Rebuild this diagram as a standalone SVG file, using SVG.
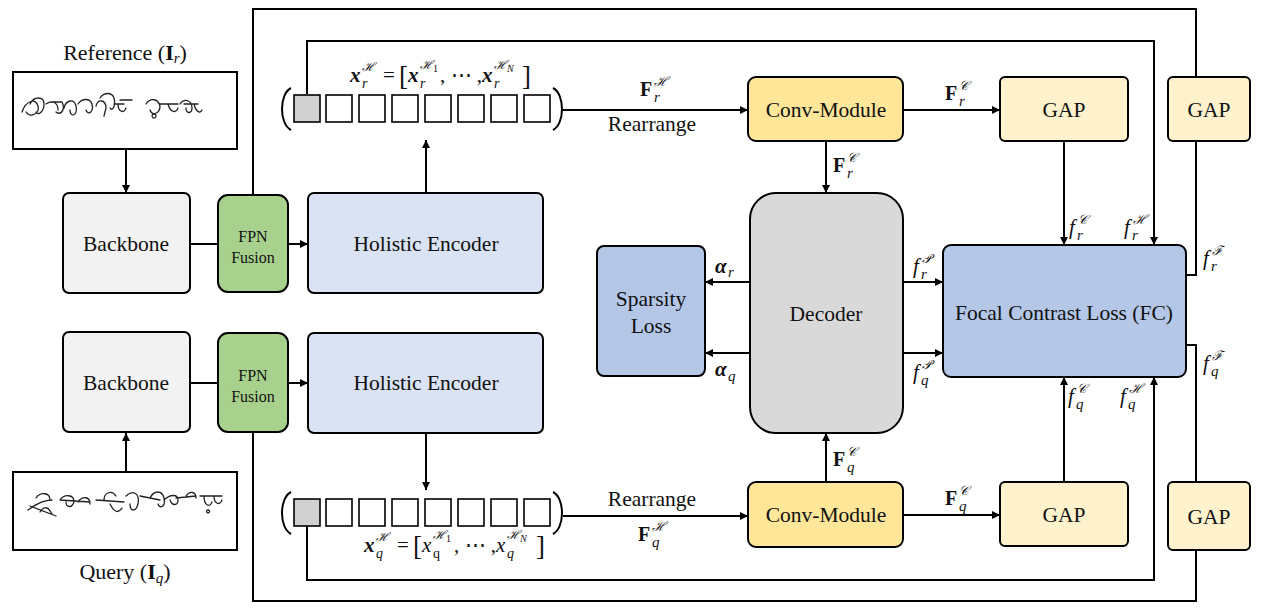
<svg xmlns="http://www.w3.org/2000/svg" width="1280" height="613" viewBox="0 0 1280 613" font-family="Liberation Serif">
<defs>
<style>
.box{stroke:#000;stroke-width:2}
.ln{fill:none;stroke:#000;stroke-width:2}
.arr{fill:none;stroke:#000;stroke-width:2;marker-end:url(#ah)}
.t{font-family:'Liberation Serif';fill:#111}
.lbl{font-size:21.5px;text-anchor:middle}
.sm{font-size:16px;text-anchor:middle}
.b{font-weight:bold}
.i{font-style:italic}
.cal{font-family:'DejaVu Serif';font-style:italic}
.cell{fill:#fff;stroke:#000;stroke-width:1.6}
.scr{fill:none;stroke:#222;stroke-width:1.3;stroke-linecap:round;stroke-linejoin:round}
</style>
<marker id="ah" viewBox="0 0 10 10" refX="10" refY="5" markerWidth="9" markerHeight="8" markerUnits="userSpaceOnUse" orient="auto">
<path d="M0,0 L10,5 L0,10 z" fill="#000"/>
</marker>
</defs>
<rect width="1280" height="613" fill="#fff"/>

<g id="connectors">
<path class="ln" d="M253,195 V9 H1196 V77"/>
<path class="ln" d="M1196,141 V275 H1186"/>
<path class="ln" d="M1186,345 H1196 V482"/>
<path class="ln" d="M1196,550 V601 H253 V432"/>
<path class="arr" d="M126,149 V193"/>
<path class="arr" d="M126,472 V433"/>
<path class="ln" d="M190,244 H218"/>
<path class="ln" d="M190,383 H218"/>
<path class="arr" d="M288,244 H308"/>
<path class="arr" d="M288,383 H308"/>
<path class="arr" d="M426,193 V140"/>
<path class="arr" d="M426,433 V490"/>
<path class="arr" d="M307,94 V41 H1154 V245"/>
<path class="arr" d="M307,525 V580 H1154 V377"/>
<path class="arr" d="M563,110 H748"/>
<path class="arr" d="M563,516 H748"/>
<path class="arr" d="M903,110 H1000"/>
<path class="arr" d="M903,515 H1000"/>
<path class="arr" d="M826,141 V193"/>
<path class="arr" d="M826,482 V433"/>
<path class="arr" d="M750,282 H705"/>
<path class="arr" d="M750,353 H705"/>
<path class="arr" d="M903,282 H943"/>
<path class="arr" d="M903,353 H943"/>
<path class="arr" d="M1064,141 V245"/>
<path class="arr" d="M1064,482 V377"/>
</g>

<g id="ref-image">
<rect x="13" y="72" width="224" height="77" fill="#fff" class="box"/>
<path class="scr" d="M22,112 C26,100 36,98 38,106 C40,114 30,118 26,112 M30,104 C34,96 44,96 44,104 C44,112 38,116 36,112 M46,104 C52,100 58,102 58,110 M52,102 L62,102 C66,110 60,116 56,112 M64,108 C66,100 74,98 76,106 C78,116 70,118 70,110 M78,104 C82,98 90,98 92,104 C94,112 88,116 86,110 M96,106 C98,98 106,100 106,108 L104,116 M100,98 C104,92 112,92 114,98 C116,106 112,112 110,108 M114,104 L124,104 M118,104 C118,112 124,114 126,108 M120,100 L132,100 M146,104 C150,98 158,98 160,106 C160,114 152,116 150,110 M160,104 L178,104 M168,104 C170,112 176,114 178,108 M180,104 C184,98 192,100 192,108 C192,114 186,114 186,108 M184,104 L198,104 M194,104 C196,112 200,114 202,110 M154,114 a2,2 0 1,0 0.1,0"/>
</g>
<text id="ref-label" class="t" x="125" y="60" font-size="22" text-anchor="middle">Reference (<tspan class="b">I</tspan><tspan class="i" font-size="15" dy="3">r</tspan><tspan dy="-3">)</tspan></text>

<g id="query-image">
<rect x="13" y="472" width="224" height="78" fill="#fff" class="box"/>
<path class="scr" d="M28,510 C36,504 44,500 52,500 M36,498 C40,492 50,492 50,500 M40,512 C44,506 48,506 52,514 M30,506 L56,516 M60,500 C64,494 74,494 74,502 C72,508 66,508 66,502 M60,500 L90,502 M78,502 C82,496 90,496 90,504 M96,500 L124,502 M104,500 C104,492 112,490 116,496 M110,504 C114,512 118,514 122,508 M126,496 C132,490 140,492 138,504 C136,512 130,512 130,504 M140,496 L160,500 M150,498 C154,490 162,490 164,498 C166,506 160,510 158,504 M164,500 C170,494 178,494 178,500 C178,506 172,506 170,500 M176,498 L196,496 M186,496 C190,490 196,492 196,498 M200,496 L222,496 M204,496 C204,506 210,508 212,502 M214,496 C214,504 220,506 222,500 M208,510 a1.5,1.5 0 1,0 0.1,0"/>
</g>
<text id="query-label" class="t" x="125" y="579" font-size="22" text-anchor="middle">Query (<tspan class="b">I</tspan><tspan class="i" font-size="15" dy="4">q</tspan><tspan dy="-4">)</tspan></text>

<g id="backbone-r"><rect x="63" y="193" width="127" height="100" rx="6" fill="#f2f2f2" class="box"/><text class="t lbl" x="126" y="251">Backbone</text></g>
<g id="backbone-q"><rect x="63" y="332" width="127" height="100" rx="6" fill="#f2f2f2" class="box"/><text class="t lbl" x="126" y="390">Backbone</text></g>
<g id="fpn-r"><rect x="218" y="195" width="70" height="97" rx="10" fill="#a9d18e" class="box"/><text class="t sm" x="253" y="242">FPN</text><text class="t sm" x="253" y="263">Fusion</text></g>
<g id="fpn-q"><rect x="218" y="333" width="70" height="99" rx="10" fill="#a9d18e" class="box"/><text class="t sm" x="253" y="381">FPN</text><text class="t sm" x="253" y="402">Fusion</text></g>
<g id="encoder-r"><rect x="308" y="193" width="235" height="100" rx="6" fill="#dae3f3" class="box"/><text class="t lbl" x="426" y="251">Holistic Encoder</text></g>
<g id="encoder-q"><rect x="308" y="333" width="235" height="100" rx="6" fill="#dae3f3" class="box"/><text class="t lbl" x="426" y="390">Holistic Encoder</text></g>

<g id="tokens-r">
<path class="ln" stroke-width="2.5" d="M291,88 C279,94 279,124 291,130"/>
<path class="ln" stroke-width="2.5" d="M553,88 C565,94 565,124 553,130"/>
<rect x="294" y="95" width="26" height="27" fill="#d0d0d0" stroke="#000" stroke-width="1.6"/>
<rect class="cell" x="326" y="95" width="26" height="27"/>
<rect class="cell" x="359" y="95" width="26" height="27"/>
<rect class="cell" x="392" y="95" width="26" height="27"/>
<rect class="cell" x="425" y="95" width="26" height="27"/>
<rect class="cell" x="458" y="95" width="26" height="27"/>
<rect class="cell" x="491" y="95" width="26" height="27"/>
<rect class="cell" x="524" y="95" width="26" height="27"/>
</g>
<g id="tokens-q">
<path class="ln" stroke-width="2.5" d="M291,492 C279,498 279,528 291,534"/>
<path class="ln" stroke-width="2.5" d="M553,492 C565,498 565,528 553,534"/>
<rect x="294" y="499" width="26" height="27" fill="#d0d0d0" stroke="#000" stroke-width="1.6"/>
<rect class="cell" x="326" y="499" width="26" height="27"/>
<rect class="cell" x="359" y="499" width="26" height="27"/>
<rect class="cell" x="392" y="499" width="26" height="27"/>
<rect class="cell" x="425" y="499" width="26" height="27"/>
<rect class="cell" x="458" y="499" width="26" height="27"/>
<rect class="cell" x="491" y="499" width="26" height="27"/>
<rect class="cell" x="524" y="499" width="26" height="27"/>
</g>

<text id="xr-label" class="t" font-size="21"><tspan class="b i" x="350" y="82">x</tspan><tspan class="cal" font-size="12" x="362" y="71">ℋ</tspan><tspan class="i" font-size="14" x="362" y="88">r</tspan><tspan x="383" y="82">=</tspan><tspan font-size="27" x="399" y="85">[</tspan><tspan class="b i" x="408" y="82">x</tspan><tspan class="cal" font-size="12" x="420" y="69">ℋ</tspan><tspan font-size="10" x="433" y="72">1</tspan><tspan class="i" font-size="14" x="420" y="88">r</tspan><tspan x="440" y="82">, ⋯ ,</tspan><tspan class="b i" x="482" y="82">x</tspan><tspan class="cal" font-size="12" x="494" y="69">ℋ</tspan><tspan class="i" font-size="10" x="507" y="72">N</tspan><tspan class="i" font-size="14" x="494" y="88">r</tspan><tspan font-size="27" x="522" y="85">]</tspan></text>

<text id="xq-label" class="t" font-size="21"><tspan class="b i" x="364" y="552">x</tspan><tspan class="cal" font-size="12" x="376" y="541">ℋ</tspan><tspan class="i" font-size="14" x="376" y="558">q</tspan><tspan x="397" y="552">=</tspan><tspan font-size="27" x="413" y="555">[</tspan><tspan class="i" x="422" y="552">x</tspan><tspan class="cal" font-size="12" x="433" y="539">ℋ</tspan><tspan font-size="10" x="446" y="542">1</tspan><tspan font-size="14" x="433" y="558">q</tspan><tspan x="454" y="552">, ⋯ ,</tspan><tspan class="i" x="496" y="552">x</tspan><tspan class="cal" font-size="12" x="507" y="539">ℋ</tspan><tspan class="i" font-size="10" x="520" y="542">N</tspan><tspan class="i" font-size="14" x="507" y="558">q</tspan><tspan font-size="27" x="536" y="555">]</tspan></text>

<g id="conv-r"><rect x="748" y="77" width="155" height="64" rx="8" fill="#ffe699" class="box"/><text class="t lbl" x="826" y="117">Conv-Module</text></g>
<g id="conv-q"><rect x="748" y="482" width="155" height="65" rx="8" fill="#ffe699" class="box"/><text class="t lbl" x="826" y="522">Conv-Module</text></g>
<g id="gap-r"><rect x="1000" y="77" width="128" height="64" rx="5" fill="#fff2cc" class="box"/><text class="t lbl" x="1064" y="117">GAP</text></g>
<g id="gap-q"><rect x="1000" y="482" width="128" height="64" rx="5" fill="#fff2cc" class="box"/><text class="t lbl" x="1064" y="522">GAP</text></g>
<g id="gap-fr"><rect x="1168" y="77" width="82" height="64" rx="5" fill="#fff2cc" class="box"/><text class="t lbl" x="1209" y="117">GAP</text></g>
<g id="gap-fq"><rect x="1168" y="482" width="82" height="68" rx="5" fill="#fff2cc" class="box"/><text class="t lbl" x="1209" y="524">GAP</text></g>
<g id="decoder"><rect x="750" y="193" width="153" height="240" rx="26" fill="#d9d9d9" class="box"/><text class="t lbl" x="826" y="321" font-size="22">Decoder</text></g>
<g id="sparsity"><rect x="597" y="246" width="108" height="130" rx="7" fill="#b4c7e7" class="box"/><text class="t lbl" x="651" y="306">Sparsity</text><text class="t lbl" x="651" y="333">Loss</text></g>
<g id="fc"><rect x="943" y="245" width="243" height="132" rx="8" fill="#b4c7e7" class="box"/><text class="t lbl" x="1064" y="320">Focal Contrast Loss (FC)</text></g>

<g id="labels">
<text class="t lbl" x="652" y="131" font-size="22">Rearrange</text>
<text class="t lbl" x="652" y="506" font-size="22">Rearrange</text>
<text class="t" font-size="20"><tspan class="b" x="640" y="96">F</tspan><tspan class="cal" font-size="13" x="654" y="86">ℋ</tspan><tspan class="i" font-size="15" x="654" y="102">r</tspan></text>
<text class="t" font-size="20"><tspan class="b" x="638" y="541">F</tspan><tspan class="cal" font-size="13" x="652" y="531">ℋ</tspan><tspan class="i" font-size="15" x="652" y="547">q</tspan></text>
<text class="t" font-size="20"><tspan class="b" x="945" y="100">F</tspan><tspan class="cal" font-size="13" x="959" y="90">𝒞</tspan><tspan class="i" font-size="15" x="959" y="106">r</tspan></text>
<text class="t" font-size="20"><tspan class="b" x="833" y="172">F</tspan><tspan class="cal" font-size="13" x="847" y="162">𝒞</tspan><tspan class="i" font-size="15" x="847" y="178">r</tspan></text>
<text class="t" font-size="20"><tspan class="b" x="833" y="466">F</tspan><tspan class="cal" font-size="13" x="847" y="456">𝒞</tspan><tspan class="i" font-size="15" x="847" y="472">q</tspan></text>
<text class="t" font-size="20"><tspan class="b" x="945" y="505">F</tspan><tspan class="cal" font-size="13" x="959" y="495">𝒞</tspan><tspan class="i" font-size="15" x="959" y="511">q</tspan></text>
<text class="t" font-size="21"><tspan class="b i" x="715" y="273">α</tspan><tspan class="i" font-size="15" x="728" y="277">r</tspan></text>
<text class="t" font-size="21"><tspan class="b i" x="715" y="376">α</tspan><tspan class="i" font-size="15" x="728" y="381">q</tspan></text>
<text class="t i" font-size="21"><tspan x="913" y="273">f</tspan><tspan class="cal" font-size="13" x="922" y="263">𝒫</tspan><tspan font-size="15" x="921" y="279">r</tspan></text>
<text class="t i" font-size="21"><tspan x="913" y="379">f</tspan><tspan class="cal" font-size="13" x="922" y="369">𝒫</tspan><tspan font-size="15" x="921" y="385">q</tspan></text>
<text class="t i" font-size="21"><tspan x="1069" y="234">f</tspan><tspan class="cal" font-size="13" x="1078" y="224">𝒞</tspan><tspan font-size="15" x="1077" y="240">r</tspan></text>
<text class="t i" font-size="21"><tspan x="1124" y="234">f</tspan><tspan class="cal" font-size="13" x="1133" y="224">ℋ</tspan><tspan font-size="15" x="1132" y="240">r</tspan></text>
<text class="t i" font-size="21"><tspan x="1068" y="403">f</tspan><tspan class="cal" font-size="13" x="1077" y="393">𝒞</tspan><tspan font-size="15" x="1076" y="409">q</tspan></text>
<text class="t i" font-size="21"><tspan x="1120" y="403">f</tspan><tspan class="cal" font-size="13" x="1129" y="393">ℋ</tspan><tspan font-size="15" x="1128" y="409">q</tspan></text>
<text class="t i" font-size="21"><tspan x="1203" y="265">f</tspan><tspan class="cal" font-size="13" x="1212" y="255">ℱ</tspan><tspan font-size="15" x="1211" y="271">r</tspan></text>
<text class="t i" font-size="21"><tspan x="1203" y="370">f</tspan><tspan class="cal" font-size="13" x="1212" y="360">ℱ</tspan><tspan font-size="15" x="1211" y="376">q</tspan></text>
</g>
</svg>
